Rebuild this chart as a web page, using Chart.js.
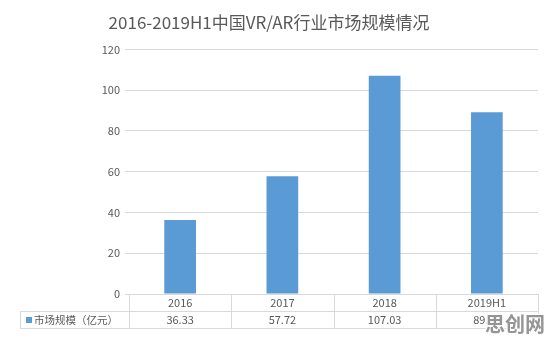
<!DOCTYPE html>
<html><head><meta charset="utf-8">
<script src="https://cdn.jsdelivr.net/npm/chart.js@4"></script>
<style>html,body{margin:0;padding:0;background:#fff}#wrap{width:552px;height:344px}</style>
</head><body><div id="wrap"><canvas id="c" width="552" height="344"></canvas></div>
<script>
const categories = ['2016', '2017', '2018', '2019H1'];
const marketSize = [36.33, 57.72, 107.03, 89.2];
const seriesName = '市场规模（亿元）';
const yTicks = [0, 20, 40, 60, 80, 100, 120];
const titleText = '2016-2019H1中国VR/AR行业市场规模情况';
const watermark = '思创网';

const FONT = "'Noto Sans CJK SC', 'Noto Sans', sans-serif";
const TEXT = '#595959', GRID = '#d9d9d9', BAR = '#5b9bd5';

const tablePlugin = {
  id: 'dataTable',
  afterDraw(chart) {
    const ctx = chart.ctx, xs = chart.scales.x, area = chart.chartArea;
    const n = categories.length;
    const cw = (xs.right - xs.left) / n;
    const top = Math.round(area.bottom), mid = top + 17, bot = mid + 17;
    const legLeft = 20;
    ctx.save();
    ctx.strokeStyle = GRID; ctx.lineWidth = 1;
    ctx.beginPath();
    ctx.moveTo(xs.left, top + 0.5); ctx.lineTo(xs.right, top + 0.5);
    ctx.moveTo(legLeft, mid + 0.5); ctx.lineTo(xs.right, mid + 0.5);
    ctx.moveTo(legLeft, bot + 0.5); ctx.lineTo(xs.right, bot + 0.5);
    for (let i = 0; i <= n; i++) {
      const bx = Math.round(xs.left + i * cw) + 0.5;
      ctx.moveTo(bx, top); ctx.lineTo(bx, bot + 1);
    }
    ctx.moveTo(legLeft + 0.5, mid); ctx.lineTo(legLeft + 0.5, bot + 1);
    ctx.stroke();

    ctx.fillStyle = TEXT;
    ctx.font = '11px ' + FONT;
    ctx.textAlign = 'center'; ctx.textBaseline = 'middle';
    categories.forEach((c, i) => {
      const cx = xs.getPixelForValue(i);
      ctx.fillText(c, cx, top + 9);
      ctx.fillText(marketSize[i].toFixed(2), cx, mid + 9);
    });
    ctx.fillStyle = BAR;
    ctx.fillRect(legLeft + 6, mid + 6, 6, 6);
    ctx.fillStyle = TEXT;
    ctx.font = '10.5px ' + FONT;
    ctx.textAlign = 'left';
    ctx.fillText(seriesName, legLeft + 14, mid + 9);

    // watermark
    ctx.font = 'bold 20px ' + FONT;
    ctx.textAlign = 'left';
    ctx.lineWidth = 3; ctx.strokeStyle = 'rgba(255,255,255,0.9)';
    ctx.strokeText(watermark, 485, mid + 13);
    ctx.fillStyle = 'rgba(140,140,140,0.92)';
    ctx.fillText(watermark, 485, mid + 13);
    ctx.restore();
  }
};

new Chart(document.getElementById('c'), {
  type: 'bar',
  data: {
    labels: categories,
    datasets: [{
      label: seriesName,
      data: marketSize,
      backgroundColor: BAR,
      barPercentage: 0.31,
      categoryPercentage: 1
    }]
  },
  options: {
    responsive: false,
    animation: false,
    layout: { padding: { left: 0, right: 14, top: 0, bottom: 50 } },
    plugins: {
      legend: { display: false },
      tooltip: { enabled: false },
      title: {
        display: true, text: titleText, color: TEXT,
        font: { family: FONT, size: 17, weight: 'normal' },
        padding: { top: 12, bottom: 17 }
      }
    },
    scales: {
      x: { type: 'category', display: false },
      y: {
        min: yTicks[0], max: yTicks[yTicks.length - 1],
        ticks: { stepSize: yTicks[1] - yTicks[0], color: TEXT, font: { family: FONT, size: 11 }, padding: 5 },
        grid: { color: GRID, drawTicks: true, tickLength: 4 },
        border: { display: false },
        afterFit(s) { s.width = 129; }
      }
    }
  },
  plugins: [tablePlugin]
});
</script>
</body></html>
